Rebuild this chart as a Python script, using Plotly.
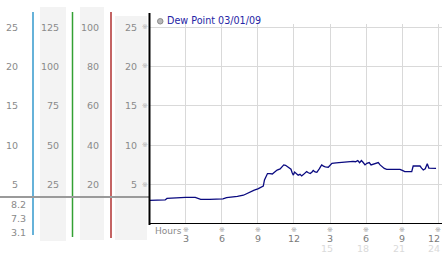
import plotly.graph_objects as go

W, H = 442, 253

# ---- data ----
hours = [0.0, 0.5, 1.0, 1.3, 1.45, 1.95, 2.1, 3.0, 3.8, 4.1, 4.25, 5.0, 5.85, 6.1, 6.4, 7.0, 7.3, 7.8,
         8.1, 8.4, 8.7, 9.0, 9.3, 9.45, 9.55, 9.65, 9.8, 10.0, 10.2, 10.4, 10.6, 10.85, 11.0, 11.15,
         11.3, 11.45, 11.6, 11.75, 11.85, 11.95, 12.05, 12.2, 12.35, 12.5, 12.64, 12.8, 12.9, 13.05,
         13.2, 13.35, 13.5, 13.6, 13.75, 13.9, 14.1, 14.3, 14.45, 14.6, 14.85, 15.0, 15.15, 15.5,
         15.82, 16.0, 16.25, 16.5, 16.65, 16.9, 17.1, 17.3, 17.45, 17.6, 17.75, 17.9, 18.05, 18.25,
         18.4, 18.6, 18.8, 19.0, 19.15, 19.3, 19.5, 19.7, 20.0, 20.5, 20.8, 21.0, 21.2, 21.5, 21.78,
         21.9, 22.2, 22.47, 22.6, 22.74, 22.9, 23.07, 23.2, 23.35, 23.6, 23.8]
dew_point = [3.0, 3.0, 3.0, 3.05, 3.25, 3.3, 3.38, 3.38, 3.38, 3.25, 3.13, 3.13, 3.13, 3.2, 3.34, 3.4,
             3.5, 3.65, 3.9, 4.1, 4.3, 4.45, 4.7, 4.8, 5.6, 6.0, 6.4, 6.4, 6.35, 6.6, 6.85, 7.0, 7.2,
             7.5, 7.45, 7.3, 7.2, 6.95, 6.5, 6.2, 6.6, 6.35, 6.2, 6.3, 6.1, 6.3, 6.45, 6.65, 6.5, 6.4,
             6.6, 6.8, 6.6, 6.55, 7.0, 7.5, 7.35, 7.25, 7.2, 7.5, 7.7, 7.75, 7.8, 7.8, 7.9, 7.87, 7.87,
             7.95, 7.9, 8.05, 7.78, 8.05, 7.8, 7.5, 7.7, 7.8, 7.5, 7.6, 7.7, 7.8, 7.5, 7.27, 7.05, 6.94,
             6.94, 6.94, 6.94, 6.8, 6.65, 6.65, 6.65, 7.36, 7.36, 7.36, 7.1, 6.85, 7.0, 7.65, 7.1, 7.07,
             7.07, 7.07]

series_name = "Dew Point 03/01/09"
x_ticks = [3, 6, 9, 12, 15, 18, 21, 24]
x_tick_text = ["3", "6", "9", "12", "3", "6", "9", "12"]
x_tick_text2 = ["15", "18", "21", "24"]
y_ticks = [5, 10, 15, 20, 25]
scale1 = ["5", "10", "15", "20", "25"]
scale2 = ["25", "50", "75", "100", "125"]
scale3 = ["20", "40", "60", "80", "100"]
scale4 = ["5", "10", "15", "20", "25"]
stats = ["8.2", "7.3", "3.1"]

# ---- geometry helpers ----
def px(x):
    return x / W

def py(y):
    return 1 - y / H

x0_px, xpx_per = 149.5, 12.04
y0_px, ypx_per = 224.0, 7.88
xr = [0, (W - x0_px) / xpx_per]
yr = [0, (y0_px - 24) / ypx_per]

FONT = "DejaVu Sans"
GRAY_TXT = "#8a8a8a"

fig = go.Figure()
fig.add_trace(go.Scatter(x=hours, y=dew_point, mode="lines",
                         line=dict(color="#0a0a80", width=1.3), showlegend=False,
                         name=series_name))

shapes = []
annots = []

# left column backgrounds
for (xa, xb, ya, yb) in [(40, 66, 7, 241), (80, 104, 7, 240), (115, 147, 16, 240)]:
    shapes.append(dict(type="rect", xref="paper", yref="paper", x0=px(xa), x1=px(xb),
                       y0=py(yb), y1=py(ya), fillcolor="#f3f3f3", line=dict(width=0), layer="below"))

# colored scale lines
for (xx, yb, col) in [(33, 235, "#3399cc"), (72.5, 237, "#33a033"), (111, 238, "#b03030")]:
    shapes.append(dict(type="line", xref="paper", yref="paper", x0=px(xx), x1=px(xx),
                       y0=py(yb), y1=py(12), line=dict(color=col, width=1.5)))

# gray current-value line
shapes.append(dict(type="line", xref="paper", yref="paper", x0=0, x1=px(149),
                   y0=py(197), y1=py(197), line=dict(color="#9a9a9a", width=2)))

# black axes
shapes.append(dict(type="line", xref="paper", yref="paper", x0=px(149.5), x1=px(149.5),
                   y0=py(225), y1=py(13), line=dict(color="black", width=2)))
shapes.append(dict(type="line", xref="paper", yref="y", x0=px(149), x1=1,
                   y0=0, y1=0, line=dict(color="black", width=2)))

# left scale labels
for cols, xright in [(scale1, 20), (scale2, 60.5), (scale3, 100.5), (scale4, 138.5)]:
    for v, t in zip(y_ticks, cols):
        annots.append(dict(xref="paper", yref="y", x=px(xright), y=v, text=t, showarrow=False,
                           xanchor="right", yanchor="middle", font=dict(family=FONT, size=9.5, color=GRAY_TXT)))
for v in y_ticks:
    annots.append(dict(xref="paper", yref="y", x=px(145), y=v, text="※", showarrow=False,
                       xanchor="center", yanchor="middle", font=dict(family=FONT, size=7, color="#b0b0b0")))

# stats labels
for t, yy in zip(stats, [204, 218.5, 232]):
    annots.append(dict(xref="paper", yref="paper", x=px(27.5), y=py(yy), text=t, showarrow=False,
                       xanchor="right", yanchor="middle", font=dict(family=FONT, size=9.5, color=GRAY_TXT)))

# x tick labels
for xv, t in zip(x_ticks, x_tick_text):
    last = xv == x_ticks[-1]
    annots.append(dict(xref="paper" if last else "x", yref="paper", x=px(442) if last else xv,
                       y=py(238), text=t, showarrow=False,
                       xanchor="right" if last else "center", yanchor="middle",
                       font=dict(family=FONT, size=9.5, color="#7a7a7a")))
    annots.append(dict(xref="x", yref="paper", x=xv, y=py(230), text="※", showarrow=False,
                       xanchor="center", yanchor="middle", font=dict(family=FONT, size=7, color="#a0a0a0")))
for xv, t in zip(x_ticks[4:], x_tick_text2):
    last = xv == x_ticks[-1]
    annots.append(dict(xref="paper" if last else "x", yref="paper", x=px(442) if last else xv - 0.25,
                       y=py(248), text=t, showarrow=False,
                       xanchor="right" if last else "center", yanchor="middle",
                       font=dict(family=FONT, size=9.5, color="#dadada")))
annots.append(dict(xref="paper", yref="paper", x=px(152.5), y=py(231), text="Hours", showarrow=False,
                   xanchor="left", yanchor="middle", font=dict(family=FONT, size=9, color="#8a8a8a")))

# legend
shapes.append(dict(type="circle", xref="paper", yref="paper", x0=px(157.5), x1=px(163),
                   y0=py(24), y1=py(18.5), fillcolor="#b8b8b8", line=dict(color="#8a8a8a", width=1)))
annots.append(dict(xref="paper", yref="paper", x=px(164.5), y=py(21), text=series_name, showarrow=False,
                   xanchor="left", yanchor="middle", font=dict(family=FONT, size=9.6, color="#2525a5")))

fig.update_layout(
    width=W, height=H, margin=dict(l=0, r=0, t=0, b=0),
    paper_bgcolor="white", plot_bgcolor="white",
    shapes=shapes, annotations=annots,
    xaxis=dict(domain=[px(x0_px), 1], range=xr, tickvals=x_ticks, showticklabels=False,
               showgrid=True, gridcolor="#d9d9d9", gridwidth=1, zeroline=False, showline=False, ticks=""),
    yaxis=dict(domain=[py(y0_px), py(24)], range=yr, tickvals=y_ticks, showticklabels=False,
               showgrid=True, gridcolor="#d9d9d9", gridwidth=1, zeroline=False, showline=False, ticks=""),
)

fig.write_html("out.html")
